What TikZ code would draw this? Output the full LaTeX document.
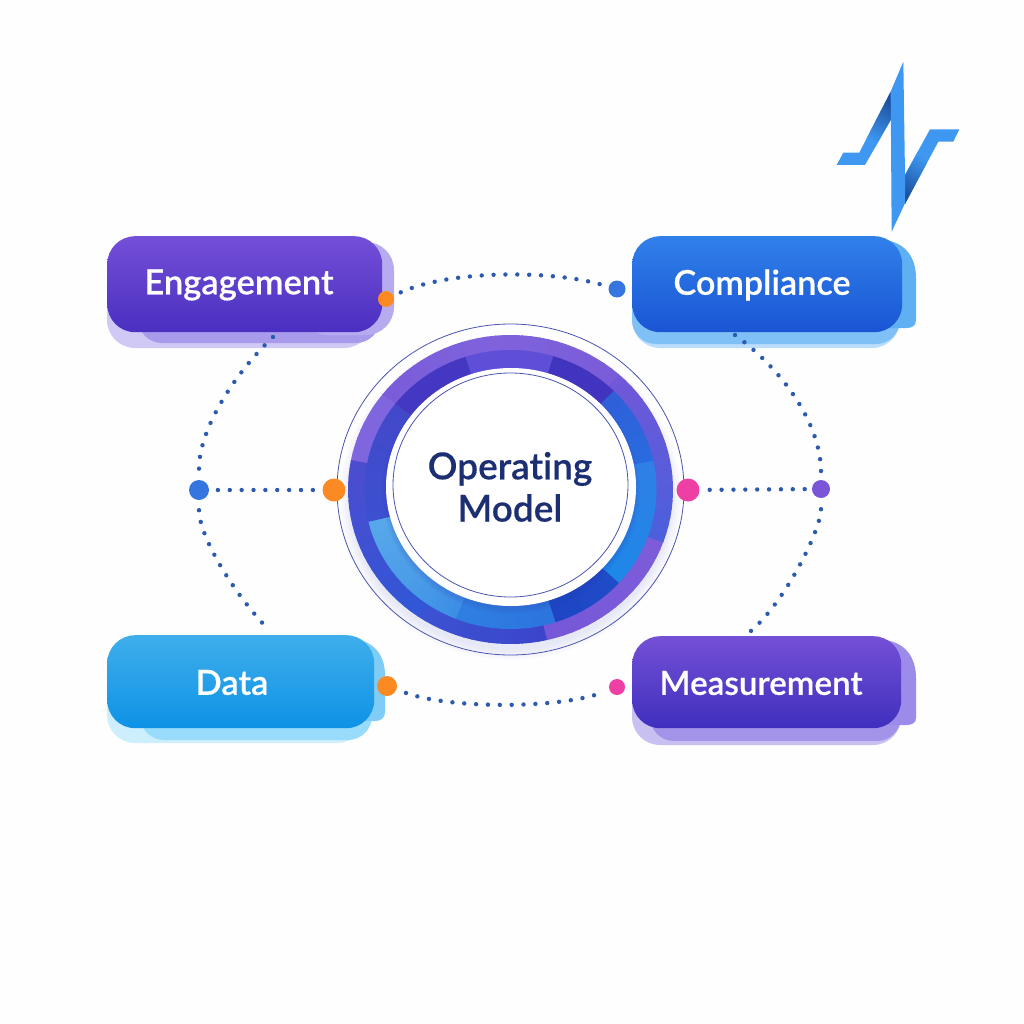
\documentclass[tikz,border=0pt]{standalone}
\usepackage{fontspec}
\setmainfont{Lato}[BoldFont={Lato Semibold},BoldFeatures={FakeBold=0.35},Ligatures=NoCommon]
\usetikzlibrary{calc,shapes.geometric}
\newcommand{\hx}[2]{\definecolor{#1}{HTML}{#2}}
\hx{bgc}{FEFEFE}\hx{navy}{1B2F72}\hx{dotc}{2C5AAE}\hx{ringline}{4A55B0}
\hx{orng}{FB8A22}\hx{blu}{3575E0}\hx{pnk}{EE3FA4}\hx{prp}{7A55D8}
\hx{logoa}{3E97F0}\hx{logob}{1B4F9C}
\hx{engT}{744FD8}\hx{engB}{4A2FC0}\hx{comT}{3080EA}\hx{comB}{1A55D4}
\hx{datT}{3FAEEB}\hx{datB}{0E92E6}\hx{meaT}{7450D6}\hx{meaB}{3F2FBE}
\hx{engL}{D0C8F5}\hx{engM}{A99BEC}\hx{engR}{B7ABF0}
\hx{comL}{BADDFB}\hx{comM}{7FC0F7}\hx{comR}{5FAFF3}
\hx{datL}{CDEEFC}\hx{datM}{98DBFA}\hx{datR}{7FCDF6}
\hx{meaL}{C9C0F2}\hx{meaM}{A394EA}\hx{meaR}{9C8BE8}
\hx{oA}{3B53D2}\hx{oB}{3B45CB}\hx{oC}{7558D8}\hx{oD}{7E5CD9}\hx{oE}{4A5FDC}\hx{oF}{7158D8}
\hx{oG}{7A5CD8}\hx{oH}{7F62DC}\hx{oI}{7F66DE}\hx{oJ}{4D4CCF}\hx{oK}{3057D6}
\hx{iA}{58A8EA}\hx{iB}{4A9CE8}\hx{iC}{3C8EE6}\hx{iD}{2F7FE2}\hx{iE}{2C74DF}\hx{iF}{1E45C4}\hx{iG}{1F4CC8}
\hx{iH}{1E88E8}\hx{iI}{2F7FE6}\hx{iJ}{2A6BE0}\hx{iK}{2F5FD8}\hx{iL}{4135BF}\hx{iM}{5F4FD8}\hx{iN}{4438C2}\hx{iO}{3C50D0}\hx{iP}{4348CA}
\hx{shd}{3A44B0}
\tikzset{
  cardbox/.style={rounded corners=28pt,minimum width=#1,inner sep=0pt,anchor=north west},
  cardtext/.style={text=white,font=\fontsize{#1}{#1}\selectfont\bfseries,inner sep=0pt},
  centertext/.style={text=navy,font=\fontsize{37}{37}\selectfont\bfseries,inner sep=0pt},
  dotline/.style={draw=dotc,line width=4.4pt,line cap=round,dash pattern=on 0pt off 11.87pt},
  hub/.style={circle,inner sep=0pt,minimum size=#1},
  ringoval/.style={draw=ringline,line width=0.8pt,ellipse,inner sep=0pt},
}
\newcommand{\ringseg}[8]{%
  \pgfmathtruncatemacro{\stepN}{max(1,int(((#2)-(#1))/3))}%
  \foreach \ii in {1,...,\stepN}{%
    \pgfmathsetmacro{\aA}{(#1)+((#2)-(#1))*(\ii-1)/\stepN}%
    \pgfmathsetmacro{\aB}{(#1)+((#2)-(#1))*\ii/\stepN+0.4}%
    \pgfmathsetmacro{\mixp}{100*(1-(\ii-0.5)/\stepN)}%
    \fill[#7!\mixp!#8] (\aA:#3 and #4) arc[start angle=\aA,end angle=\aB,x radius=#3,y radius=#4]
      -- (\aB:#5 and #6) arc[start angle=\aB,end angle=\aA,x radius=#5,y radius=#6] -- cycle;
  }%
}
\newcommand{\outerseg}[4]{\ringseg{#1}{#2}{162.5}{154.5}{140}{133}{#3}{#4}}
\newcommand{\innerseg}[4]{\ringseg{#1}{#2}{146}{139.5}{120}{114}{#3}{#4}}
\begin{document}
\begin{tikzpicture}[x=1pt,y=1pt]
\useasboundingbox (0,-1024) rectangle (1024,0);
\fill[bgc] (0,-1024) rectangle (1024,0);

% logo
\begin{scope}[shift={(820,-50)},x=0.3333pt,y=-0.3333pt]
\fill[logoa] (50,345)--(70,308)--(118,308)--(212,125)--(215,205)--(135,345)--cycle;
\path[top color=logob,bottom color=logoa,shading angle=-30] (212,125)--(215,205)--(166,290)--(140,265)--cycle;
\fill[logoa] (255,375)--(330,238)--(418,238)--(400,275)--(355,275)--(255,462)--cycle;
\path[bottom color=logob,top color=logoa,shading angle=-30] (255,375)--(255,462)--(320,340)--(295,302)--cycle;
\fill[logoa] (250,35)--(212,125)--(215,545)--(255,460)--(255,375)--cycle;
\end{scope}

% card back layers
\fill[rounded corners=28pt,engL] (107,-262) rectangle (372,-348);
\fill[rounded corners=24pt,engM] (138,-290) rectangle (380,-343);
\fill[rounded corners=28pt,engR] (300,-242) rectangle (394,-335);

\fill[rounded corners=28pt,comL] (632,-270) rectangle (900,-348);
\fill[rounded corners=24pt,comM] (632,-290) rectangle (900,-344);
\fill[comR] (800,-240) -- (885,-240) .. controls (906,-243) and (916,-258) .. (916,-278)
  -- (916,-320) .. controls (916,-326) and (912,-328) .. (906,-328) -- (800,-328) -- cycle;

\fill[rounded corners=28pt,datL] (107,-660) rectangle (365,-743);
\fill[rounded corners=24pt,datM] (140,-680) rectangle (372,-740);
\fill[datR] (330,-639) -- (355,-639) .. controls (375,-642) and (385,-656) .. (385,-675)
  -- (385,-712) .. controls (385,-718) and (381,-721) .. (375,-721) -- (330,-721) -- cycle;

\fill[rounded corners=28pt,meaL] (632,-660) rectangle (901,-745);
\fill[rounded corners=24pt,meaM] (650,-680) rectangle (901,-741);
\fill[meaR] (820,-640) -- (885,-640) .. controls (906,-643) and (916,-658) .. (916,-678)
  -- (916,-718) .. controls (916,-723) and (912,-725) .. (906,-725) -- (820,-725) -- cycle;

% cards
\node[cardbox=275pt,minimum height=96pt,top color=engT,bottom color=engB] (engBox) at (107,-236) {};
\node[cardbox=270pt,minimum height=96pt,top color=comT,bottom color=comB] (comBox) at (632,-236) {};
\node[cardbox=267pt,minimum height=93pt,top color=datT,bottom color=datB] (datBox) at (107,-635) {};
\node[cardbox=269pt,minimum height=92pt,top color=meaT,bottom color=meaB] (meaBox) at (632,-636) {};
\node[cardtext=34.5] (engTxt) at (239,-285) {Engagement};
\node[cardtext=34.2] (comTxt) at (762,-285) {Compliance};
\node[cardtext=34.5] (datTxt) at (232,-682.5) {Data};
\node[cardtext=33.2] (meaTxt) at (761,-683) {Measurement};

% centre ring
\begin{scope}[shift={(510.5,-489.5)}]
\foreach \k in {0,...,7}{
  \fill[shd,opacity=0.012] (0,-8) ellipse[x radius=160+1.5*\k,y radius=152+1.5*\k];
}
\outerseg{-125}{-77}{oA}{oB}
\outerseg{-77}{-20}{oC}{oD}
\outerseg{-20}{48}{oE}{oF}
\outerseg{48}{95}{oG}{oH}
\outerseg{95}{142}{oH}{oG}
\outerseg{142}{169}{oI}{oI}
\outerseg{169}{235}{oJ}{oK}
\innerseg{-167}{-135}{iA}{iB}
\innerseg{-135}{-112}{iB}{iC}
\innerseg{-112}{-72}{iD}{iE}
\innerseg{-72}{-42}{iF}{iG}
\innerseg{-42}{12}{iH}{iI}
\innerseg{12}{45}{iJ}{iK}
\innerseg{45}{73}{iL}{iL}
\innerseg{73}{108}{iM}{iM}
\innerseg{108}{142}{iN}{iN}
\innerseg{142}{193}{iP}{iO}
\end{scope}
\begin{scope}[shift={(511,-487)}]
\foreach \k in {0,...,5}{
  \fill[shd,opacity=0.035] (0,-4) ellipse[x radius=124+\k,y radius=118+\k];
}
\fill[white] (0,0) ellipse[x radius=125,y radius=119];
\end{scope}
\node[ringoval,minimum width=347pt,minimum height=331pt] (outerRing) at (510.5,-489.5) {};
\node[ringoval,minimum width=235pt,minimum height=224pt] (innerRing) at (510.5,-485) {};
\node[centertext] (opTxt) at (510,-469) {Operating};
\node[centertext] (moTxt) at (510,-508) {Model};

% hubs
\node[hub=16pt,fill=orng] (hEng) at (386,-299) {};
\node[hub=17pt,fill=blu] (hCom) at (617,-289) {};
\node[hub=20pt,fill=blu] (hLeft) at (199,-490) {};
\node[hub=23pt,fill=orng] (hIn) at (334,-490) {};
\node[hub=23pt,fill=pnk] (hOut) at (688,-490) {};
\node[hub=18pt,fill=prp] (hRight) at (821,-489) {};
\node[hub=20pt,fill=orng] (hDat) at (387,-686) {};
\node[hub=16pt,fill=pnk] (hMea) at (617,-687) {};
\coordinate (engFoot) at (273,-337);
\coordinate (comFoot) at (735,-335);
\coordinate (datTop) at (269,-630);
\coordinate (meaTop) at (746,-635);

% connectors
\draw[dotline,shorten <=8pt,shorten >=8pt] (hEng) .. controls (450,-270) and (550,-270) .. (hCom);
\draw[dotline,shorten <=10pt,shorten >=6pt] (hDat) .. controls (450,-709) and (560,-709) .. (hMea);
\draw[dotline,shorten >=11pt] (engFoot) .. controls (236,-372) and (199,-428) .. (hLeft);
\draw[dotline,shorten <=10pt] (hLeft) .. controls (199,-535) and (232,-592) .. (datTop);
\draw[dotline,shorten >=8pt] (comFoot) .. controls (788,-374) and (821,-428) .. (hRight);
\draw[dotline,shorten <=11pt] (hRight) .. controls (821,-530) and (783,-607) .. (meaTop);
\draw[dotline,shorten <=8.7pt,shorten >=8pt] (hLeft) -- (hIn);
\draw[dotline,shorten <=10pt,shorten >=7pt] (hOut) -- (hRight);
\end{tikzpicture}
\end{document}
